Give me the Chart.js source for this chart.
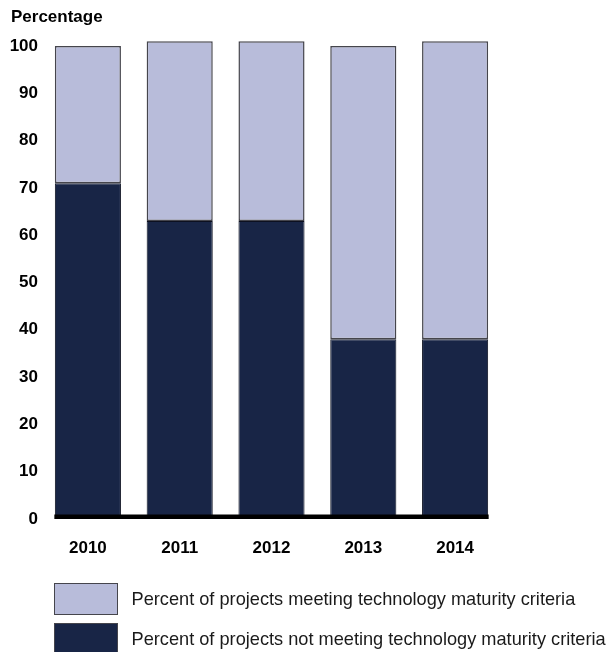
<!DOCTYPE html>
<html>
<head>
<meta charset="utf-8">
<script src="https://cdn.jsdelivr.net/npm/chart.js@4.4.1/dist/chart.umd.min.js"></script>
<style>
  html, body { margin: 0; padding: 0; background: #ffffff; }
  #wrap { position: relative; width: 611px; height: 652px; }
</style>
</head>
<body>
<div id="wrap"><canvas id="c" width="611" height="652"></canvas></div>
<script>
// Project years and the share of projects in each group (percent)
const years = ['2010', '2011', '2012', '2013', '2014'];
const notMeeting = [71, 63, 63, 38, 38];
const meeting = [29, 38, 38, 62, 63];
const seriesLabels = [
  'Percent of projects meeting technology maturity criteria',
  'Percent of projects not meeting technology maturity criteria'
];
const yTicks = [0, 10, 20, 30, 40, 50, 60, 70, 80, 90, 100];

const LIGHT = '#b8bcda';
const DARK = '#182546';
const EDGE = '#45454c';
const FONT = '"Liberation Sans", Arial, Helvetica, sans-serif';

// Axis heading, heavy baseline under the bars, and the boxed legend
const decorations = {
  id: 'decorations',
  afterDatasetsDraw(chart) {
    const ctx = chart.ctx;
    const meta = chart.getDatasetMeta(0);
    const first = meta.data[0], last = meta.data[meta.data.length - 1];
    const y0 = chart.scales.y.getPixelForValue(0);
    ctx.save();
    ctx.fillStyle = '#000000';
    const x1 = first.x - first.width / 2 - 0.5;
    const x2 = last.x + last.width / 2 + 0.5;
    ctx.fillRect(x1, y0 - 4.5, x2 - x1, 4.5);
    ctx.restore();
  },
  afterDraw(chart) {
    const ctx = chart.ctx;
    ctx.save();
    ctx.fillStyle = '#000000';
    ctx.font = 'bold 17px ' + FONT;
    ctx.textAlign = 'left';
    ctx.textBaseline = 'middle';
    ctx.fillText('Percentage', 11, 17);

    // legend: light series first, dark second
    const items = [
      { color: LIGHT, text: seriesLabels[0], y: 583 },
      { color: DARK, text: seriesLabels[1], y: 623 }
    ];
    items.forEach(it => {
      ctx.fillStyle = it.color;
      ctx.fillRect(54.5, it.y + 0.5, 63, 31);
      ctx.strokeStyle = EDGE;
      ctx.lineWidth = 1;
      ctx.strokeRect(54.5, it.y + 0.5, 63, 31);
      ctx.fillStyle = '#1a1a1a';
      ctx.font = '18.2px ' + FONT;
      ctx.textBaseline = 'middle';
      ctx.fillText(it.text, 131.5, it.y + 17);
    });
    ctx.restore();
  }
};

new Chart(document.getElementById('c'), {
  type: 'bar',
  data: {
    labels: years,
    datasets: [
      {
        label: seriesLabels[1],
        data: notMeeting,
        backgroundColor: DARK,
        borderColor: '#0c1020',
        borderWidth: 1,
        borderSkipped: false,
        clip: false
      },
      {
        label: seriesLabels[0],
        data: meeting,
        backgroundColor: LIGHT,
        borderColor: EDGE,
        borderWidth: 1.5,
        borderSkipped: false,
        clip: false
      }
    ]
  },
  options: {
    responsive: false,
    animation: false,
    devicePixelRatio: 1,
    layout: { padding: { top: 46, right: 110, left: 0, bottom: 0 } },
    datasets: { bar: { categoryPercentage: 1, barPercentage: 0.72 } },
    plugins: { legend: { display: false }, tooltip: { enabled: false }, title: { display: false } },
    scales: {
      x: {
        stacked: true,
        grid: { display: false, drawTicks: false },
        border: { display: false },
        ticks: { color: '#000000', font: { family: FONT, size: 17, weight: 'bold' }, padding: 19 },
        afterFit(scale) { scale.height = 133; }
      },
      y: {
        stacked: true,
        min: 0,
        max: 100,
        grid: { display: false, drawTicks: false },
        border: { display: false },
        afterBuildTicks(scale) { scale.ticks = yTicks.map(v => ({ value: v })); },
        ticks: { color: '#000000', font: { family: FONT, size: 17, weight: 'bold' }, padding: 4 },
        afterFit(scale) { scale.width = 42; }
      }
    }
  },
  plugins: [decorations]
});
</script>
</body>
</html>
